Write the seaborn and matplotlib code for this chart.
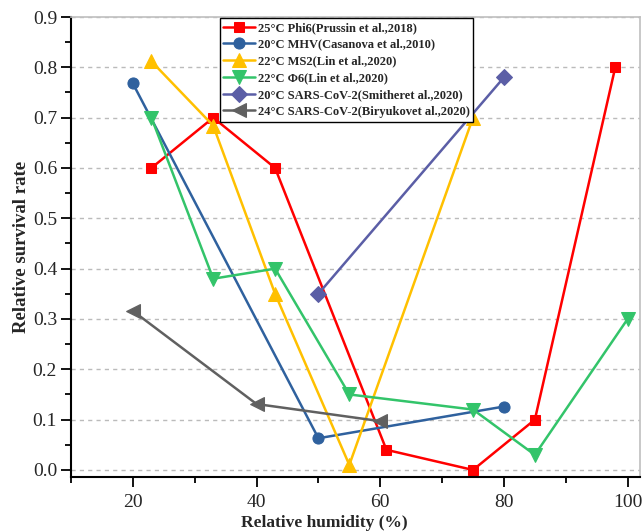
import matplotlib
matplotlib.use("Agg")
import matplotlib.pyplot as plt
import seaborn as sns
import pandas as pd
from matplotlib.ticker import MultipleLocator, FormatStrFormatter

sns.set_theme(style="white")
plt.rcParams['font.family'] = ['Liberation Serif', 'DejaVu Serif']
plt.rcParams['mathtext.fontset'] = 'stix'

labels = [
    "25°C Phi6(Prussin et al.,2018)",
    "20°C MHV(Casanova et al.,2010)",
    "22°C MS2(Lin et al.,2020)",
    "22°C Φ6(Lin et al.,2020)",
    "20°C SARS-CoV-2(Smitheret al.,2020)",
    "24°C SARS-CoV-2(Biryukovet al.,2020)",
]

phi6_prussin_x = [23, 33, 43, 61, 75, 85, 98]
phi6_prussin_y = [0.60, 0.70, 0.60, 0.04, 0.00, 0.10, 0.80]

mhv_x = [20, 50, 80]
mhv_y = [0.768, 0.063, 0.126]

ms2_x = [23, 33, 43, 55, 75]
ms2_y = [0.812, 0.684, 0.35, 0.01, 0.70]

phi6_lin_x = [23, 33, 43, 55, 75, 85, 100]
phi6_lin_y = [0.70, 0.38, 0.40, 0.15, 0.12, 0.03, 0.30]

smither_x = [50, 80]
smither_y = [0.35, 0.78]

biryukov_x = [20, 40, 60]
biryukov_y = [0.316, 0.131, 0.097]

series_x = [phi6_prussin_x, mhv_x, ms2_x, phi6_lin_x, smither_x, biryukov_x]
series_y = [phi6_prussin_y, mhv_y, ms2_y, phi6_lin_y, smither_y, biryukov_y]
colors = ["#FF0000", "#2F619E", "#FFC000", "#33C46A", "#5B5EA6", "#606060"]
markers = ["s", "o", "^", "v", "D", "<"]
msizes = [7.5, 8, 9.5, 9.5, 8.5, 9.5]

fig = plt.figure(figsize=(6.44, 5.32), dpi=100)
ax = fig.add_axes([71/644, 1 - 477/532, (640-71)/644, (477-17)/532])

for lab, xs, ys, c, m, ms in zip(labels, series_x, series_y, colors, markers, msizes):
    df = pd.DataFrame({"x": xs, "y": ys})
    sns.lineplot(data=df, x="x", y="y", sort=False, color=c, marker=m,
                 markersize=ms, markeredgecolor=c, linewidth=1.8, label=lab, ax=ax)

ax.set_xlim(10, 102)
ax.set_ylim(-0.014, 0.9)
ax.xaxis.set_major_locator(MultipleLocator(20))
ax.xaxis.set_minor_locator(MultipleLocator(10))
ax.yaxis.set_major_locator(MultipleLocator(0.1))
ax.yaxis.set_minor_locator(MultipleLocator(0.05))
ax.yaxis.set_major_formatter(FormatStrFormatter('%.1f'))

ax.tick_params(axis='both', which='major', direction='out', length=7, width=1.3,
               labelsize=14, color='black', left=True, bottom=True, pad=3)
ax.tick_params(axis='both', which='minor', direction='out', length=4, width=1.3,
               color='black', left=True, bottom=True)
ax.tick_params(axis='x', pad=5)

ax.grid(True, axis='y', which='major', linestyle=(0, (3, 3)), color='#bbbbbb', linewidth=1)
ax.set_axisbelow(True)

for side in ['left', 'bottom']:
    ax.spines[side].set_color('black')
    ax.spines[side].set_linewidth(1.5)
for side in ['top', 'right']:
    ax.spines[side].set_color('#bfbfbf')
    ax.spines[side].set_linewidth(1.2)

ax.set_xlabel("Relative humidity (%)", fontsize=12.5, fontweight='bold')
ax.xaxis.set_label_coords(0.446, -0.083)
ax.set_ylabel("Relative survival rate", fontsize=13.5, fontweight='bold', labelpad=2)

leg = ax.legend(loc='upper left', bbox_to_anchor=(0.259, 1.0), frameon=True, fancybox=False,
                edgecolor='black', framealpha=1, prop={'weight': 'bold', 'size': 9},
                handlelength=2.5, handletextpad=0.25, labelspacing=0.38, borderpad=0.3,
                borderaxespad=0.1)
leg.get_frame().set_linewidth(1.0)

fig.savefig("out.png", dpi=100)
